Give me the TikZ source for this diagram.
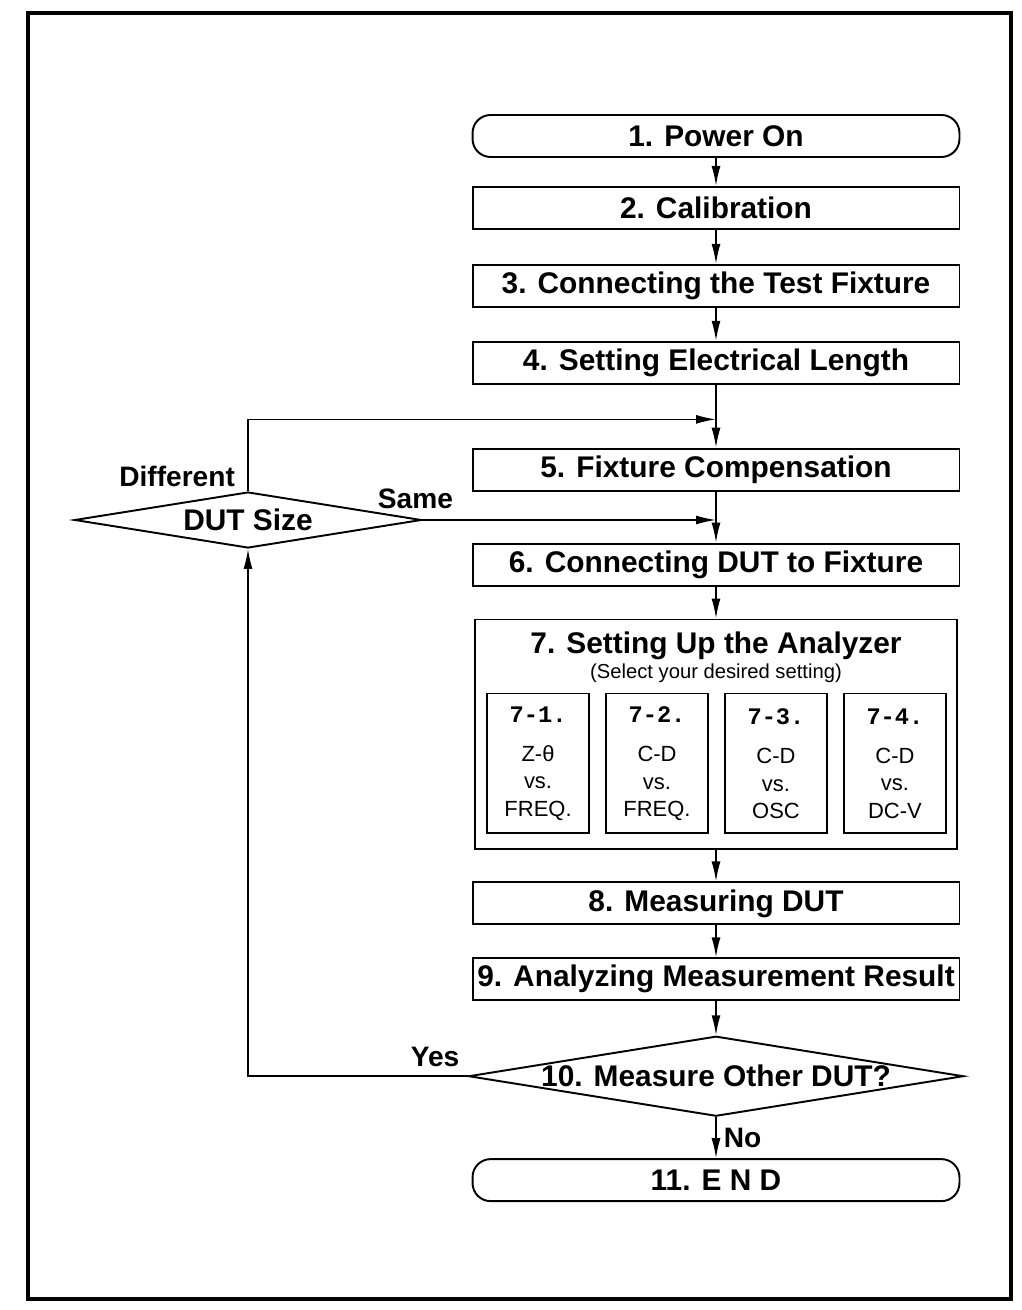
\documentclass[tikz,border=0pt]{standalone}
\usepackage{fontspec}
\setmainfont{Liberation Sans}
\newfontfamily\codefont{Liberation Mono}
\usetikzlibrary{arrows.meta,calc,positioning,shapes.geometric}
\tikzset{
  stepbox/.style={draw, line width=1.1pt, minimum width=9.74cm, minimum height=0.84cm, inner sep=2pt, font=\fontsize{17}{20}\selectfont\bfseries},
  termbox/.style={stepbox, rounded corners=0.36cm},
  setupbox/.style={draw, line width=1.1pt, minimum width=9.64cm, minimum height=4.6cm},
  optbox/.style={draw, line width=1.1pt, minimum width=2.04cm, minimum height=2.8cm, align=center, inner sep=0pt, font=\fontsize{12.5}{15.5}\selectfont},
  decisionbox/.style={draw, diamond, aspect=6.2, line width=1.1pt, inner sep=0pt, font=\fontsize{17}{20}\selectfont\bfseries},
  arrow/.style={-{Latex[length=4mm, width=1.8mm]}, line width=0.9pt},
  flowlabel/.style={font=\fontsize{16}{19}\selectfont\bfseries, inner sep=1pt},
  frame/.style={draw, line width=2pt}
}

\begin{document}
\begin{tikzpicture}[x=0.02cm, y=-0.02cm]
  \useasboundingbox (0,0) rectangle (1021,1310);
  \draw[frame] (28,13) rectangle (1011,1299);

  % main column
  \node[termbox] (power) at (716,136) {1. Power On};
  \node[stepbox, below=0.56cm of power] (calib) {2. Calibration};
  \node[stepbox, below=0.68cm of calib] (fixture) {3. Connecting the Test Fixture};
  \node[stepbox, below=0.66cm of fixture] (elec) {4. Setting Electrical Length};
  \node[stepbox, below=1.26cm of elec] (comp) {5. Fixture Compensation};
  \node[stepbox, below=1.02cm of comp] (connect) {6. Connecting DUT to Fixture};
  \node[setupbox, below=0.64cm of connect] (setup) {};
  \node[stepbox, below=0.62cm of setup] (measure) {8. Measuring DUT};
  \node[stepbox, below=0.64cm of measure] (analyze) {9. Analyzing Measurement Result};
  \node[decisionbox, minimum width=9.9cm, minimum height=1.6cm, below=0.68cm of analyze] (other) {10. Measure Other DUT?};
  \node[termbox, below=0.82cm of other] (endnode) {11. E N D};

  % analyzer settings
  \node[font=\fontsize{17}{20}\selectfont\bfseries] (setuptitle) at ([yshift=-0.54cm]setup.north) {7. Setting Up the Analyzer};
  \node[font=\fontsize{11.5}{14}\selectfont] (setupnote) at ([yshift=-1.1cm]setup.north) {(Select your desired setting)};
  \node[optbox] (opt1) at ([xshift=-3.56cm, yshift=-0.58cm]setup.center) {{\codefont\fontsize{13.5}{15}\selectfont\bfseries 7-1.}\\[7pt] Z-θ\\ vs.\\ FREQ.};
  \node[optbox] (opt2) at ([xshift=-1.18cm, yshift=-0.58cm]setup.center) {{\codefont\fontsize{13.5}{15}\selectfont\bfseries 7-2.}\\[7pt] C-D\\ vs.\\ FREQ.};
  \node[optbox] (opt3) at ([xshift=1.2cm, yshift=-0.58cm]setup.center) {{\codefont\fontsize{13.5}{15}\selectfont\bfseries 7-3.}\\[7pt] C-D\\ vs.\\ OSC};
  \node[optbox] (opt4) at ([xshift=3.58cm, yshift=-0.58cm]setup.center) {{\codefont\fontsize{13.5}{15}\selectfont\bfseries 7-4.}\\[7pt] C-D\\ vs.\\ DC-V};

  % DUT size check
  \node[decisionbox, minimum width=6.94cm, minimum height=1.12cm] (dut) at (248,520) {DUT Size};
  \coordinate (join1) at ($(elec.south)!0.55!(comp.north)$);
  \coordinate (join2) at (comp.south |- dut.east);

  \draw[arrow] (power) -- (calib);
  \draw[arrow] (calib) -- (fixture);
  \draw[arrow] (fixture) -- (elec);
  \draw[arrow] (elec) -- (comp);
  \draw[arrow] (comp) -- (connect);
  \draw[arrow] (connect) -- (setup);
  \draw[arrow] (setup) -- (measure);
  \draw[arrow] (measure) -- (analyze);
  \draw[arrow] (analyze) -- (other);
  \draw[arrow] (other) -- node[flowlabel, right=3pt]{No} (endnode);
  \draw[arrow] (dut.north) |- node[flowlabel, pos=0.1, left=6pt]{Different} (join1);
  \draw[arrow] (dut.east) -- node[flowlabel, pos=0, above=5pt, xshift=-4pt]{Same} (join2);
  \draw[arrow] (other.west) -| node[flowlabel, pos=0.074, above=4pt]{Yes} (dut.south);
\end{tikzpicture}
\end{document}
